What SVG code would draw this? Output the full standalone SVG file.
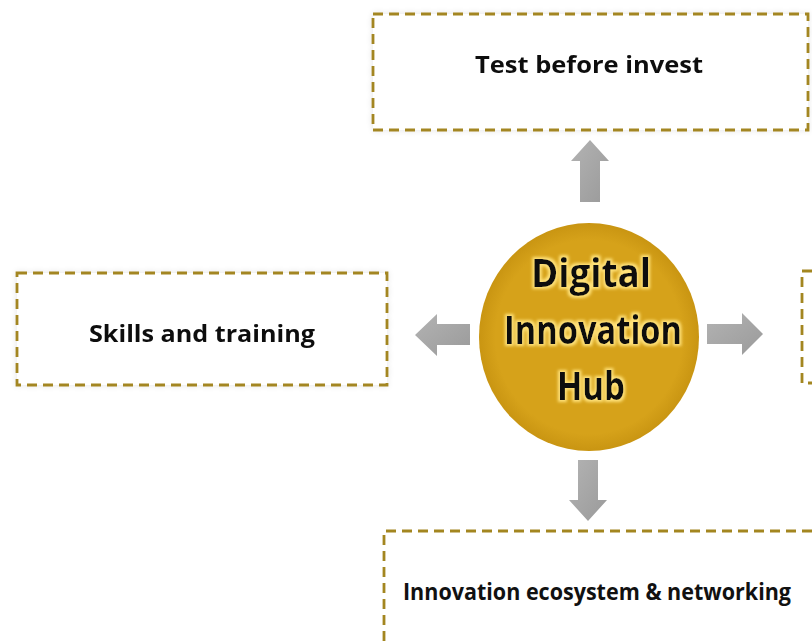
<svg xmlns="http://www.w3.org/2000/svg" width="812" height="643" viewBox="0 0 812 643">
  <defs>
    <style>
      .box { fill: #ffffff; stroke: #A38620; stroke-width: 2.8; stroke-dasharray: 10 6; }
      .edge { fill: none; stroke: #A38620; stroke-width: 2.8; stroke-dasharray: 10 6; }
      .label { font-family: "Open Sans", "Liberation Sans", sans-serif; font-weight: 700; font-size: 23px; fill: #111111; text-anchor: middle; }
      .hub { font-family: "Open Sans", "Liberation Sans", sans-serif; font-weight: 700; font-size: 39px; fill: #111111; text-anchor: middle; }
      .arrow { fill: url(#arrowGrad); }
    </style>
    <linearGradient id="arrowGrad" x1="0" y1="0" x2="1" y2="1">
      <stop offset="0" stop-color="#B3B3B3"/>
      <stop offset="1" stop-color="#9A9A9A"/>
    </linearGradient>
    <radialGradient id="hubGrad" cx="0.5" cy="0.5" r="0.5">
      <stop offset="0.85" stop-color="#D6A21A"/>
      <stop offset="1" stop-color="#C99512"/>
    </radialGradient>
    <filter id="glow" x="-10%" y="-30%" width="120%" height="160%">
      <feMorphology in="SourceAlpha" operator="dilate" radius="2.2" result="d"/>
      <feGaussianBlur in="d" stdDeviation="1.6" result="b"/>
      <feFlood flood-color="#FFE27A"/>
      <feComposite in2="b" operator="in" result="g"/>
      <feMerge><feMergeNode in="g"/><feMergeNode in="SourceGraphic"/></feMerge>
    </filter>
    <filter id="shadow" x="-5%" y="-10%" width="110%" height="120%">
      <feGaussianBlur in="SourceAlpha" stdDeviation="3"/>
      <feComponentTransfer><feFuncA type="linear" slope="0.1"/></feComponentTransfer>
      <feMerge><feMergeNode/><feMergeNode in="SourceGraphic"/></feMerge>
    </filter>
  </defs>
  <rect width="812" height="643" fill="#ffffff"/>

  <g id="connectors">
    <polygon class="arrow" points="580,202 580,161 571,161 590,140 609,161 600,161 600,202"/>
    <polygon class="arrow" points="470,324 437,324 437,314 415,335 437,356 437,345 470,345"/>
    <polygon class="arrow" points="707,324 742,324 742,313 763,334 742,355 742,344 707,344"/>
    <polygon class="arrow" points="578,460 598,460 598,500 607,500 588,521 569,500 578,500"/>
  </g>

  <g id="hub">
    <ellipse cx="589" cy="337" rx="110" ry="114" fill="url(#hubGrad)"/>
    <g filter="url(#glow)">
      <text class="hub" x="591" y="287" textLength="120" lengthAdjust="spacingAndGlyphs">Digital</text>
      <text class="hub" x="593" y="344" textLength="178" lengthAdjust="spacingAndGlyphs">Innovation</text>
      <text class="hub" x="591" y="400" textLength="68" lengthAdjust="spacingAndGlyphs">Hub</text>
    </g>
  </g>

  <g id="test-before-invest" filter="url(#shadow)">
    <rect class="box" x="373" y="14" width="435" height="116"/>
    <text class="label" x="589" y="73" textLength="228" lengthAdjust="spacingAndGlyphs">Test before invest</text>
  </g>

  <g id="skills-and-training" filter="url(#shadow)">
    <rect class="box" x="17" y="273" width="370" height="112"/>
    <text class="label" x="202" y="342" textLength="226" lengthAdjust="spacingAndGlyphs">Skills and training</text>
  </g>

  <g id="right-box">
    <path class="edge" d="M812,271 H802 V383 H812"/>
  </g>

  <g id="innovation-ecosystem">
    <path class="edge" d="M812,531 H384 V643"/>
    <text class="label" x="597" y="600" textLength="388" lengthAdjust="spacingAndGlyphs">Innovation ecosystem &amp; networking</text>
  </g>
</svg>
